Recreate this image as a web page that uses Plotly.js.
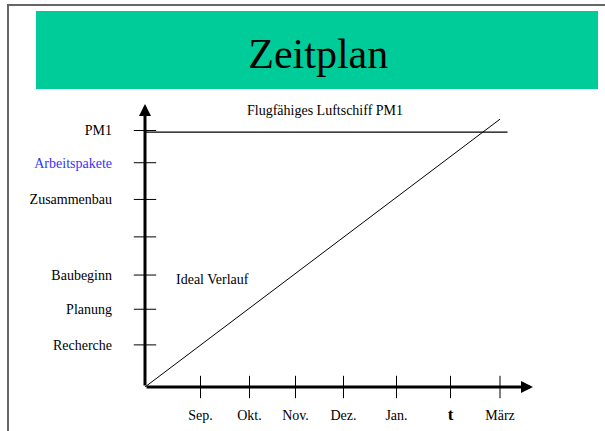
<!DOCTYPE html>
<html>
<head>
<meta charset="utf-8">
<script src="https://cdn.plot.ly/plotly-3.0.1.min.js"></script>
<style>html,body{margin:0;padding:0;background:#fff;}#chart{width:605px;height:431px;}</style>
</head>
<body>
<div id="chart"></div>
<script>
// ---- data ----
const yTickValues = [1.17, 2.16, 3.11, 4.17, 5.21, 6.23, 7.125];
const yTickLabels = ['Recherche', 'Planung', 'Baubeginn', '', 'Zusammenbau', 'Arbeitspakete', 'PM1'];
const xTickValues = [1.11, 2.09, 3.01, 3.97, 5.03, 6.11, 7.10];
const xTickLabels = ['Sep.', 'Okt.', 'Nov.', 'Dez.', 'Jan.', 't', 'März'];
const idealX = [0, 7.1];
const idealY = [0, 7.44];
const pm1X = [0, 7.25];
const pm1Y = [7.08, 7.08];
const xMax = 7.76;
const yMax = 7.861;

// ---- layout helpers ----
const W = 605, H = 431;
const M = {l: 145, r: 72, t: 104, b: 44};
const px = v => (v - M.l) / (W - M.l - M.r);
const py = v => ((H - M.b) - v) / (H - M.t - M.b);
const serif = 'Liberation Serif, Times New Roman, serif';

const yText = yTickLabels.map(s => s === 'Arbeitspakete' ? '<span style="color:#3333ff">' + s + '</span>' : s);
const xText = xTickLabels.map(s => s === 't' ? '<span style="font-size:17px"><b>t</b></span>' : s);

const traces = [
  {x: idealX, y: idealY, mode: 'lines', line: {color: '#000', width: 1}, cliponaxis: false},
  {x: pm1X, y: pm1Y, mode: 'lines', line: {color: '#000', width: 1.3}, cliponaxis: false},
  {x: yTickValues.map(() => 0), y: yTickValues, mode: 'markers', cliponaxis: false,
   marker: {symbol: 'line-ew', size: 16, color: '#000', line: {color: '#000', width: 1}}},
  {x: xTickValues, y: xTickValues.map(() => 0), mode: 'markers', cliponaxis: false,
   marker: {symbol: 'line-ns', size: 16, color: '#000', line: {color: '#000', width: 1}}}
];

const layout = {
  width: W, height: H,
  margin: M,
  paper_bgcolor: '#fff', plot_bgcolor: 'rgba(0,0,0,0)',
  showlegend: false,
  hovermode: false,
  font: {family: serif, size: 14, color: '#000'},
  title: {
    text: 'Zeitplan',
    font: {family: serif, size: 42, color: '#000'},
    xref: 'container', yref: 'container',
    x: 0.526, y: 1 - 53 / H, xanchor: 'center', yanchor: 'middle'
  },
  xaxis: {
    range: [0, xMax], showgrid: false, zeroline: false, showline: false,
    ticks: '', tickmode: 'array', tickvals: xTickValues, ticktext: xText,
    ticklabelstandoff: 18,
    tickfont: {family: serif, size: 14, color: '#000'}, fixedrange: true
  },
  yaxis: {
    range: [0, yMax], showgrid: false, zeroline: false, showline: false,
    ticks: '', tickmode: 'array', tickvals: yTickValues, ticktext: yText,
    ticklabelstandoff: 32,
    tickfont: {family: serif, size: 14, color: '#000'}, fixedrange: true
  },
  shapes: [
    {type: 'rect', xref: 'paper', yref: 'paper', x0: px(8), x1: px(640), y0: py(5), y1: py(460),
     line: {color: '#666', width: 2}, fillcolor: 'rgba(0,0,0,0)', layer: 'below'},
    {type: 'rect', xref: 'paper', yref: 'paper', x0: px(36), x1: px(598), y0: py(11), y1: py(89),
     line: {width: 0}, fillcolor: '#00cc99', layer: 'below'}
  ],
  annotations: [
    {x: xMax, y: 0, ax: 0, ay: 0, axref: 'x', ayref: 'y', xref: 'x', yref: 'y', text: '',
     showarrow: true, arrowhead: 2, arrowwidth: 3, arrowsize: 0.8, arrowcolor: '#000', standoff: 0},
    {x: 0, y: yMax, ax: 0, ay: 0, axref: 'x', ayref: 'y', xref: 'x', yref: 'y', text: '',
     showarrow: true, arrowhead: 2, arrowwidth: 3, arrowsize: 0.8, arrowcolor: '#000', standoff: 0},
    {x: 3.6, y: 7.67, xref: 'x', yref: 'y', text: 'Flugfähiges Luftschiff PM1', showarrow: false,
     font: {family: serif, size: 14, color: '#000'}},
    {x: 1.35, y: 3.0, xref: 'x', yref: 'y', text: 'Ideal Verlauf', showarrow: false,
     font: {family: serif, size: 14, color: '#000'}}
  ]
};

Plotly.newPlot('chart', traces, layout, {staticPlot: true, displayModeBar: false});
</script>
</body>
</html>
